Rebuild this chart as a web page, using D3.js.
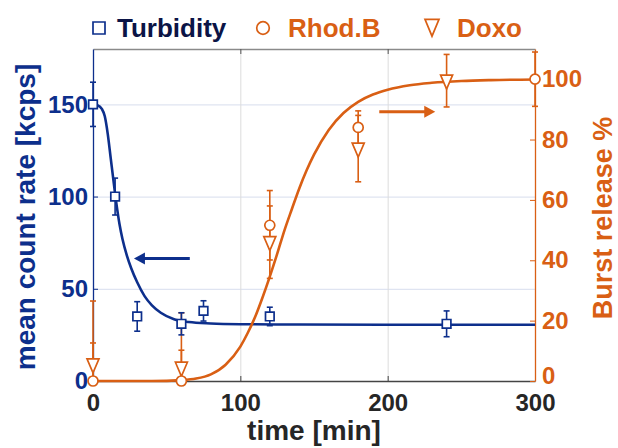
<!DOCTYPE html>
<html>
<head>
<meta charset="utf-8">
<script src="https://cdn.jsdelivr.net/npm/d3@7"></script>
<style>
  body { margin: 0; background: #fff; }
  svg { display: block; font-family: "Liberation Sans", Arial, sans-serif; font-weight: bold; }
</style>
</head>
<body>
<script>
// time axis
var xTicks = [0, 100, 200, 300];
var leftTicks = [0, 50, 100, 150];
var rightTicks = [0, 20, 40, 60, 80, 100];

// turbidity (left axis, kcps)
var turbT = [0, 15, 30, 60, 75, 120, 240];
var turbV = [150, 100, 35, 31, 38, 35, 31];
var turbE = [12, 10, 8, 6, 5.5, 5, 7];

// Rhod.B release (right axis, %)
var rhodT = [0, 60, 120, 180, 300];
var rhodV = [0, 0, 51.6, 84, 100];
var rhodE = [12.6, 10.2, 11.5, 5.5, 9];

// Doxo release (right axis, %)
var doxoT = [0, 60, 120, 180, 240];
var doxoV = [5.5, 4.4, 46, 77, 99.5];
var doxoE = [21, 18.2, 12, 11, 8.7];

// fitted curves
var turbFitT = [0, 3, 6, 8, 10, 12, 14, 16, 18, 20, 23, 26, 30, 35, 40, 46, 55, 65, 80, 100, 140, 200, 300];
var turbFitV = [150, 149.5, 147.5, 143.5, 134, 121, 108, 95.5, 85, 77, 68, 61, 53.5, 46, 41, 37, 33.5, 32, 31.2, 30.8, 30.6, 30.5, 30.5];
var relFitT = [0, 20, 40, 60, 70, 80, 90, 100, 105, 110, 115, 120, 125, 130, 135, 140, 145, 150, 160, 170, 180, 190, 200, 215, 230, 250, 270, 300];
var relFitV = [0, 0, 0, 0.3, 0.8, 2.2, 5.4, 11.4, 15.9, 21.2, 27.6, 34.6, 42.1, 50, 57, 63.8, 69.8, 75, 83.2, 88.8, 92.5, 94.9, 96.5, 98, 98.8, 99.4, 99.7, 99.9];

var BLUE = "#0d2f8c", ORANGE = "#d95f14", DARK = "#262626";

var W = 618, H = 448;
var m = { top: 49, right: 83, bottom: 67, left: 93 };
var iw = W - m.left - m.right, ih = H - m.top - m.bottom;

var svg = d3.select("body").append("svg").attr("width", W).attr("height", H);
var g = svg.append("g").attr("transform", "translate(" + m.left + "," + m.top + ")");

var x = d3.scaleLinear().domain([0, 300]).range([0, iw]);
var yL = d3.scaleLinear().domain([0, 180]).range([ih, 0]);
var yR = d3.scaleLinear().domain([0, 110]).range([ih, 0]);

// grid
g.append("g").call(d3.axisLeft(yL).tickValues([50, 100, 150]).tickSize(-iw).tickFormat(""))
  .call(function (s) { s.select(".domain").remove(); s.selectAll("line").attr("stroke", "#dfe4f1").attr("stroke-width", 1.2); });
g.append("g").attr("transform", "translate(0," + ih + ")")
  .call(d3.axisBottom(x).tickValues([100, 200]).tickSize(-ih).tickFormat(""))
  .call(function (s) { s.select(".domain").remove(); s.selectAll("line").attr("stroke", "#dcdcdc").attr("stroke-width", 1); });

// box top + ticks
g.append("g").call(d3.axisTop(x).tickValues([100, 200]).tickSize(-5).tickSizeOuter(0).tickFormat(""))
  .call(function (s) { s.select(".domain").attr("stroke", "#8a8a8a").attr("stroke-width", 1.3); s.selectAll("line").attr("stroke", "#555"); });

// bottom axis
var gx = g.append("g").attr("transform", "translate(0," + ih + ")")
  .call(d3.axisBottom(x).tickValues(xTicks).tickSize(-5).tickSizeOuter(0).tickPadding(7));
gx.select(".domain").attr("stroke", "#444").attr("stroke-width", 1.3);
gx.selectAll("line").attr("stroke", "#444");
gx.selectAll("text").attr("fill", DARK).attr("font-size", 24).attr("font-weight", "bold")
  .attr("font-family", "'Liberation Sans', Arial, sans-serif").attr("dy", "0.95em");

// left axis
var gl = g.append("g").call(d3.axisLeft(yL).tickValues(leftTicks).tickSize(-5).tickSizeOuter(0).tickPadding(5));
gl.select(".domain").attr("stroke", BLUE).attr("stroke-width", 1.3);
gl.selectAll("line").attr("stroke", BLUE);
gl.selectAll("text").attr("fill", BLUE).attr("font-size", 24).attr("font-weight", "bold")
  .attr("font-family", "'Liberation Sans', Arial, sans-serif");

// right axis
var gr = g.append("g").attr("transform", "translate(" + iw + ",0)")
  .call(d3.axisRight(yR).tickValues(rightTicks).tickSize(-5).tickSizeOuter(0).tickPadding(7));
gr.select(".domain").attr("stroke", ORANGE).attr("stroke-width", 1.3);
gr.selectAll("line").attr("stroke", ORANGE);
gr.selectAll("text").attr("fill", ORANGE).attr("font-size", 24).attr("font-weight", "bold")
  .attr("font-family", "'Liberation Sans', Arial, sans-serif");
// lift the right "0" a little so it clears the "300" below
gr.selectAll(".tick text").filter(function (d) { return d === 0; }).attr("dy", "0.1em");

// axis titles
svg.append("text").attr("transform", "translate(35," + (m.top + ih / 2 + 2) + ") rotate(-90)")
  .attr("text-anchor", "middle").attr("fill", BLUE).attr("font-size", 28).text("mean count rate [kcps]");
svg.append("text").attr("transform", "translate(612," + (m.top + ih / 2 + 3) + ") rotate(-90)")
  .attr("text-anchor", "middle").attr("fill", ORANGE).attr("font-size", 27).text("Burst release %");
svg.append("text").attr("x", m.left + iw / 2).attr("y", 440)
  .attr("text-anchor", "middle").attr("fill", DARK).attr("font-size", 28).text("time [min]");

// fit curves
var curve = d3.curveMonotoneX;
g.append("path").datum(d3.zip(turbFitT, turbFitV))
  .attr("fill", "none").attr("stroke", BLUE).attr("stroke-width", 2.6)
  .attr("d", d3.line().x(function (d) { return x(d[0]); }).y(function (d) { return yL(d[1]); }).curve(curve));
g.append("path").datum(d3.zip(relFitT, relFitV))
  .attr("fill", "none").attr("stroke", ORANGE).attr("stroke-width", 2.6)
  .attr("d", d3.line().x(function (d) { return x(d[0]); }).y(function (d) { return yR(d[1]); }).curve(curve));

// error bars + markers
function errBars(ts, vs, es, y, color) {
  var dom = y.domain();
  var data = d3.zip(ts, vs, es);
  var eg = g.append("g").attr("stroke", color).attr("stroke-width", 1.6);
  data.forEach(function (d) {
    var lo = d[1] - d[2], hi = d[1] + d[2];
    var cx = x(d[0]);
    eg.append("line").attr("x1", cx).attr("x2", cx)
      .attr("y1", y(Math.max(lo, dom[0]))).attr("y2", y(Math.min(hi, dom[1])));
    [lo, hi].forEach(function (v) {
      if (v >= dom[0] && v <= dom[1]) {
        eg.append("line").attr("x1", cx - 3).attr("x2", cx + 3).attr("y1", y(v)).attr("y2", y(v));
      }
    });
  });
}
function markers(ts, vs, y, color, shape) {
  var data = d3.zip(ts, vs);
  g.append("g").selectAll("path").data(data).enter().append("path")
    .attr("fill", "#fff").attr("stroke", color).attr("stroke-width", 1.7)
    .attr("transform", function (d) { return "translate(" + x(d[0]) + "," + y(d[1]) + ")"; })
    .attr("d", shape);
}
var sq = function (s) { return "M" + (-s) + "," + (-s) + "H" + s + "V" + s + "H" + (-s) + "Z"; };
var circ = function (r) { return "M" + r + ",0A" + r + "," + r + " 0 1,1 " + (-r) + ",0A" + r + "," + r + " 0 1,1 " + r + ",0Z"; };
var tri = function (w, h) { return "M" + (-w) + "," + (-h * 0.55) + "H" + w + "L0," + (h * 0.85) + "Z"; };

errBars(rhodT, rhodV, rhodE, yR, ORANGE);
errBars(doxoT, doxoV, doxoE, yR, ORANGE);
errBars(turbT, turbV, turbE, yL, BLUE);
markers(doxoT, doxoV, yR, ORANGE, tri(6, 10));
markers(rhodT, rhodV, yR, ORANGE, circ(5));
markers(turbT, turbV, yL, BLUE, sq(4.3));

// arrows
function arrow(t0, t1, v, y, color) {
  var x0 = x(t0), x1 = x(t1), yy = y(v), dir = x1 > x0 ? 1 : -1;
  g.append("line").attr("x1", x0).attr("x2", x1 - dir * 8).attr("y1", yy).attr("y2", yy)
    .attr("stroke", color).attr("stroke-width", 3);
  g.append("path").attr("fill", color)
    .attr("d", "M" + x1 + "," + yy + "L" + (x1 - dir * 11) + "," + (yy - 6) + "L" + (x1 - dir * 11) + "," + (yy + 6) + "Z");
}
arrow(65.7, 27.8, 66.4, yL, BLUE);
arrow(194.3, 232.3, 89.2, yR, ORANGE);

// legend
var legNames = ["Turbidity", "Rhod.B", "Doxo"];
var legColors = ["#0b1446", ORANGE, ORANGE];
var legSym = [sq(6), circ(6.3), tri(7, 12)];
var legSymColor = [BLUE, ORANGE, ORANGE];
var legX = [99, 263, 432];
legNames.forEach(function (n, i) {
  svg.append("path").attr("d", legSym[i]).attr("fill", "none").attr("stroke", legSymColor[i]).attr("stroke-width", 1.7)
    .attr("transform", "translate(" + legX[i] + "," + (i === 2 ? 26 : 28) + ")");
  svg.append("text").attr("x", legX[i] + (i === 0 ? 18 : 25)).attr("y", 37)
    .attr("fill", legColors[i]).attr("font-size", 26).text(n);
});
</script>
</body>
</html>
